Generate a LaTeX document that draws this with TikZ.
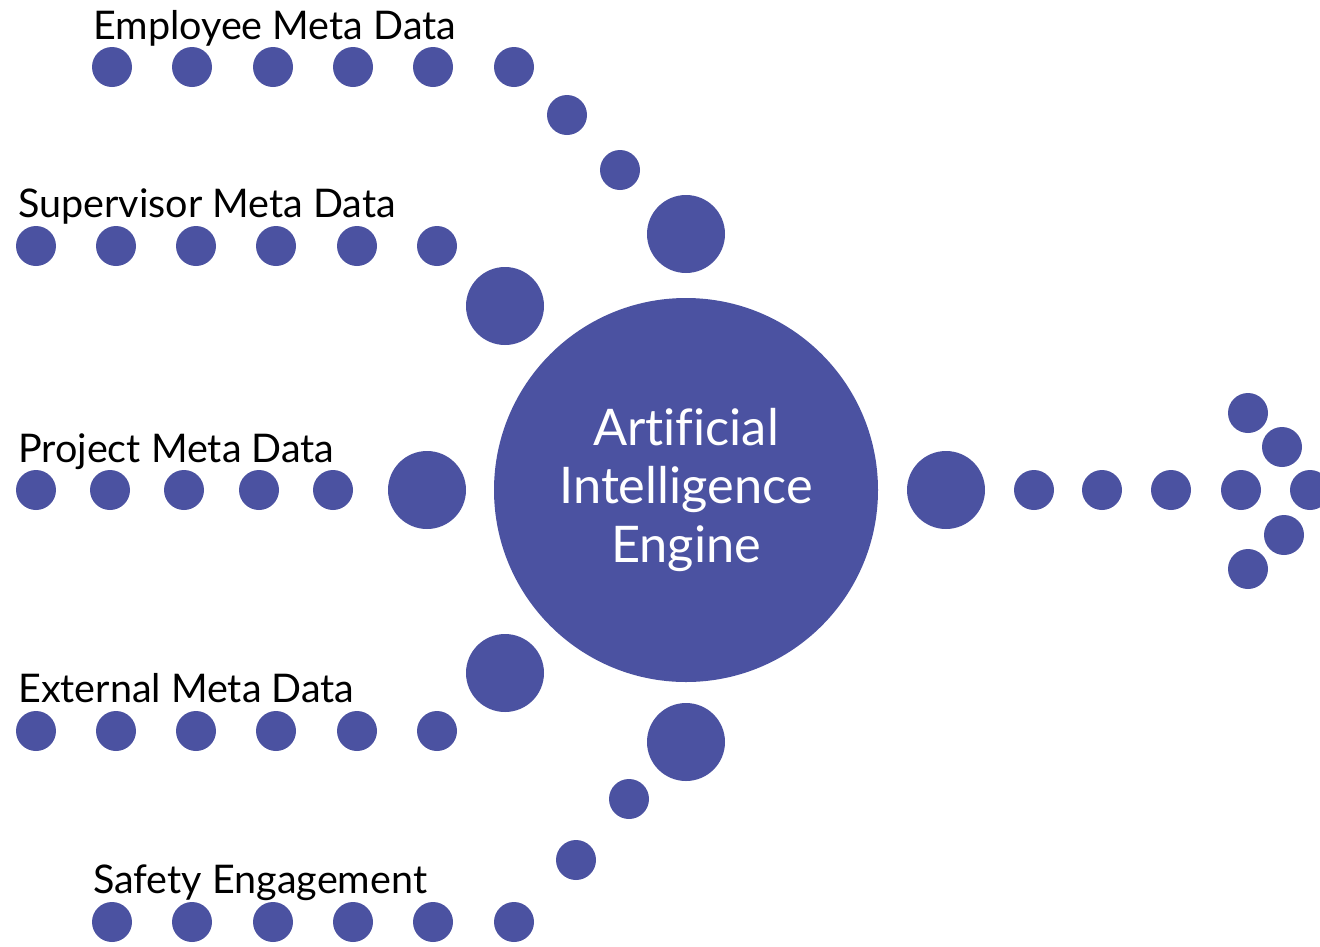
\documentclass[tikz,border=0pt]{standalone}
\usepackage{fontspec}
\setmainfont{Lato}[Ligatures=NoCommon]
\definecolor{dotblue}{RGB}{75,82,161}
\begin{document}
\begin{tikzpicture}[x=1pt,y=-1pt,
  dot/.style={circle,fill=dotblue,inner sep=0pt,minimum size=40pt},
  bigdot/.style={circle,fill=dotblue,inner sep=0pt,minimum size=78pt},
  lbl/.style={anchor=base west,inner sep=0pt,font=\fontsize{39.5}{46}\selectfont},
  engine/.style={circle,fill=dotblue,inner sep=0pt,minimum size=384pt,text=white,align=center,font=\fontsize{50.5}{58.5}\selectfont}]
\useasboundingbox (0,0) rectangle (1320,946);
% Employee
\node[lbl] (l1) at (93,39) {Employee Meta Data};
\foreach \x [count=\i] in {112,192,273,353,433,514} \node[dot] (e\i) at (\x,67) {};
\node[dot] (e7) at (567,115) {};
\node[dot] (e8) at (620,170) {};
\node[bigdot] (e9) at (686,234) {};
% Supervisor
\node[lbl] (l2) at (18,217) {Supervisor Meta Data};
\foreach \x [count=\i] in {36,116,196,276,357,437} \node[dot] (s\i) at (\x,246) {};
\node[bigdot] (s7) at (505,306) {};
% Project
\node[lbl] (l3) at (18,462) {Project Meta Data};
\foreach \x [count=\i] in {36,110,184,259,333} \node[dot] (p\i) at (\x,490) {};
\node[bigdot] (p6) at (427,490) {};
% Engine
\node[engine] (ai) at (686,490) {Artificial\\Intelligence\\Engine};
% External
\node[lbl] (l4) at (18,702) {External Meta Data};
\foreach \x [count=\i] in {36,116,196,276,357,437} \node[dot] (x\i) at (\x,731) {};
\node[bigdot] (x7) at (505,673) {};
% Safety
\node[lbl] (l5) at (93,893) {Safety Engagement};
\foreach \x [count=\i] in {112,192,273,353,433,514} \node[dot] (f\i) at (\x,922) {};
\node[dot] (f7) at (576,860) {};
\node[dot] (f8) at (629,799) {};
\node[bigdot] (f9) at (686,742) {};
% Output arrow
\node[bigdot] (o0) at (946,490) {};
\foreach \x [count=\i] in {1034,1102,1171,1241,1310} \node[dot] (o\i) at (\x,490) {};
\node[dot] (a1) at (1248,413) {};
\node[dot] (a2) at (1282,447) {};
\node[dot] (a3) at (1284,535) {};
\node[dot] (a4) at (1248,569) {};
\end{tikzpicture}
\end{document}
